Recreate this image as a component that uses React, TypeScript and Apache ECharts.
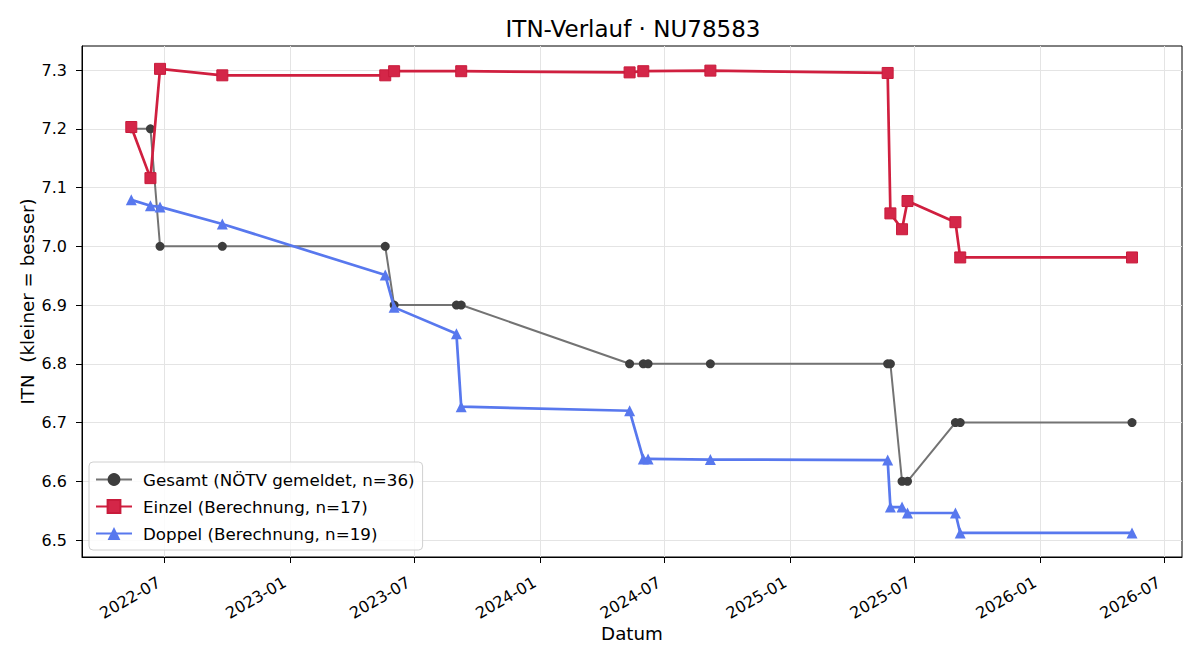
import React, { useEffect, useRef } from "react";
import * as echarts from "echarts";

const gesamtDates = [
  "2022-05-14", "2022-06-11", "2022-06-25", "2022-09-24", "2023-05-20", "2023-06-02",
  "2023-09-01", "2023-09-08", "2024-05-11", "2024-05-31", "2024-06-07", "2024-09-06",
  "2025-05-23", "2025-05-27", "2025-06-13", "2025-06-21", "2025-08-30", "2025-09-06", "2026-05-15",
];
const gesamtValues = [7.2, 7.2, 7.0, 7.0, 7.0, 6.9, 6.9, 6.9, 6.8, 6.8, 6.8, 6.8, 6.8, 6.8, 6.6, 6.6, 6.7, 6.7, 6.7];

const einzelDates = [
  "2022-05-14", "2022-06-11", "2022-06-25", "2022-09-24", "2023-05-20", "2023-06-02",
  "2023-09-08", "2024-05-11", "2024-05-31", "2024-09-06", "2025-05-23", "2025-05-27",
  "2025-06-13", "2025-06-21", "2025-08-30", "2025-09-06", "2026-05-15",
];
const einzelValues = [7.203, 7.116, 7.302, 7.291, 7.291, 7.298, 7.298, 7.296, 7.298, 7.299, 7.295, 7.056, 7.029, 7.077, 7.041, 6.981, 6.981];

const doppelDates = [
  "2022-05-14", "2022-06-11", "2022-06-25", "2022-09-24", "2023-05-20", "2023-06-02",
  "2023-09-01", "2023-09-08", "2024-05-11", "2024-05-31", "2024-06-07", "2024-09-06",
  "2025-05-23", "2025-05-27", "2025-06-13", "2025-06-21", "2025-08-30", "2025-09-06", "2026-05-15",
];
const doppelValues = [7.079, 7.069, 7.067, 7.038, 6.951, 6.896, 6.851, 6.727, 6.72, 6.638, 6.638, 6.637, 6.636, 6.556, 6.556, 6.546, 6.546, 6.512, 6.512];

const xTickDates = [
  "2022-07-01", "2023-01-01", "2023-07-01", "2024-01-01", "2024-07-01",
  "2025-01-01", "2025-07-01", "2026-01-01", "2026-07-01",
];
const yTicks = [6.5, 6.6, 6.7, 6.8, 6.9, 7.0, 7.1, 7.2, 7.3];

const xMin = "2022-03-03";
const xMax = "2026-07-27";
const yMin = 6.4711;
const yMax = 7.3409;

const toTs = (s: string) => {
  const [y, m, d] = s.split("-").map(Number);
  return Date.UTC(y, m - 1, d);
};

const FONT = "DejaVu Sans";

export default function App() {
  const ref = useRef<HTMLDivElement>(null);
  useEffect(() => {
    if (!ref.current) return;
    const chart = echarts.init(ref.current, undefined, { renderer: "svg" });
    const xTicks = xTickDates.map(toTs);
    const pair = (ds: string[], vs: number[]) => ds.map((d, i) => [toTs(d), vs[i]]);
    chart.setOption({
      animation: false,
      backgroundColor: "#fff",
      textStyle: { fontFamily: FONT },
      title: {
        text: "ITN-Verlauf · NU78583",
        left: 628,
        textAlign: "center",
        top: 12,
        textStyle: { fontFamily: FONT, fontSize: 23, fontWeight: "normal", color: "#000" },
      },
      grid: {
        left: 82, right: 18, top: 46, bottom: 103,
        show: true, borderColor: "#000", borderWidth: 1, backgroundColor: "transparent",
      },
      legend: {
        orient: "vertical",
        left: 89,
        top: 462,
        padding: [9, 8, 8, 6],
        itemGap: 10,
        itemWidth: 36,
        itemHeight: 16,
        backgroundColor: "rgba(255,255,255,0.85)",
        borderColor: "#d0d0d0",
        borderWidth: 1,
        borderRadius: 4,
        textStyle: { fontFamily: FONT, fontSize: 16.7, color: "#000", padding: [0, 0, 0, 6] },
        data: [
          "Gesamt (NÖTV gemeldet, n=36)",
          "Einzel (Berechnung, n=17)",
          "Doppel (Berechnung, n=19)",
        ],
      },
      xAxis: {
        type: "value",
        min: toTs(xMin),
        max: toTs(xMax),
        name: "Datum",
        nameLocation: "middle",
        nameGap: 67,
        nameMoveOverlap: false,
        nameTextStyle: { fontFamily: FONT, fontSize: 18.3, color: "#000" },
        axisLine: { show: true, lineStyle: { color: "#000", width: 1 } },
        axisTick: { show: true, length: 6, lineStyle: { color: "#000" }, customValues: xTicks },
        axisLabel: {
          customValues: xTicks,
          rotate: 30,
          margin: 21,
          padding: [0, 6, 0, 0],
          fontFamily: FONT,
          fontSize: 16,
          color: "#000",
          formatter: (v: number) => {
            const d = new Date(v);
            const m = d.getUTCMonth() + 1;
            return d.getUTCFullYear() + "-" + (m < 10 ? "0" + m : "" + m);
          },
        },
        splitLine: { show: true, lineStyle: { color: "#e4e4e4", width: 1 } },
      },
      yAxis: {
        type: "value",
        min: yMin,
        max: yMax,
        name: "ITN  (kleiner = besser)",
        nameLocation: "middle",
        nameGap: 46,
        nameMoveOverlap: false,
        nameTextStyle: { fontFamily: FONT, fontSize: 18.3, color: "#000" },
        axisLine: { show: true, lineStyle: { color: "#000", width: 1 } },
        axisTick: { show: true, length: 6, lineStyle: { color: "#000" }, customValues: yTicks },
        axisLabel: {
          customValues: yTicks,
          margin: 15,
          fontFamily: FONT,
          fontSize: 16,
          color: "#000",
          formatter: (v: number) => v.toFixed(1),
        },
        splitLine: { show: true, lineStyle: { color: "#e4e4e4", width: 1 } },
      },
      series: [
        {
          name: "Gesamt (NÖTV gemeldet, n=36)",
          type: "line",
          data: pair(gesamtDates, gesamtValues),
          symbol: "circle",
          symbolSize: 9,
          lineStyle: { color: "#737373", width: 2 },
          itemStyle: { color: "#3d3d3d" },
          z: 2,
        },
        {
          name: "Einzel (Berechnung, n=17)",
          type: "line",
          data: pair(einzelDates, einzelValues),
          symbol: "rect",
          symbolSize: 11,
          lineStyle: { color: "#d01f3f", width: 2.7 },
          itemStyle: { color: "#d42648", borderColor: "#c81b3b", borderWidth: 1 },
          z: 3,
        },
        {
          name: "Doppel (Berechnung, n=19)",
          type: "line",
          data: pair(doppelDates, doppelValues),
          symbol: "triangle",
          symbolSize: 11,
          lineStyle: { color: "#5878ee", width: 2.7 },
          itemStyle: { color: "#5878ee" },
          z: 4,
        },
      ],
    });
    return () => chart.dispose();
  }, []);
  return <div ref={ref} style={{ width: 1200, height: 660, position: "absolute", left: 0, top: 0 }} />;
}
